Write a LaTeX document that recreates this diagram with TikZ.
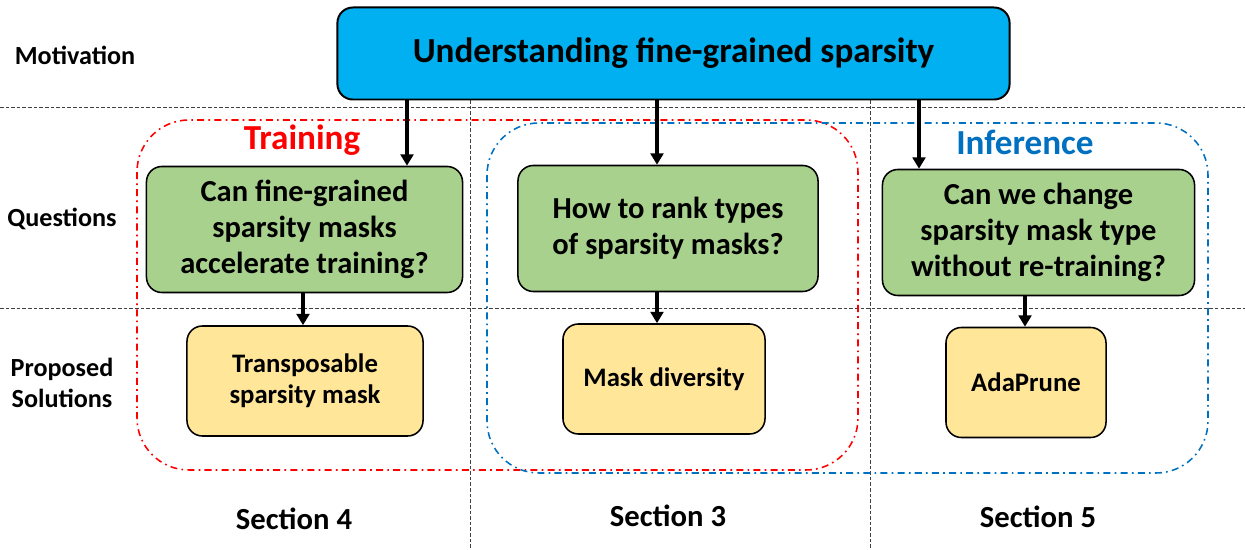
\documentclass[tikz,border=0pt]{standalone}
\usepackage{fontspec}
\setmainfont{Carlito}
\usetikzlibrary{arrows.meta, positioning, calc}
\definecolor{MotBlue}{HTML}{00B0F0}
\definecolor{QGreen}{HTML}{A9D18E}
\definecolor{SolYellow}{HTML}{FFE699}
\definecolor{TrainRed}{HTML}{FF0000}
\definecolor{InfBlue}{HTML}{0070C0}
\definecolor{GridGray}{HTML}{404040}

\tikzset{
  topbox/.style={draw=black, fill=MotBlue, rounded corners=11pt, line width=1.4pt,
    minimum width=16.8cm, minimum height=2.3cm, font=\fontsize{25}{30}\selectfont\bfseries},
  qbox/.style={draw=black, fill=QGreen, rounded corners=11pt, line width=1.1pt,
    align=center, minimum height=3.15cm, font=\fontsize{21.7}{25.5}\selectfont\bfseries},
  solbox/.style={draw=black, fill=SolYellow, rounded corners=11pt, line width=1.1pt,
    align=center, minimum height=2.75cm, font=\fontsize{19}{22}\selectfont\bfseries},
  rowlbl/.style={align=center, font=\fontsize{18.6}{22}\selectfont\bfseries},
  seclbl/.style={font=\fontsize{21.8}{25}\selectfont\bfseries},
  regionlbl/.style={font=\fontsize{25}{29}\selectfont\bfseries},
  arr/.style={line width=2.2pt, -{Triangle[length=8pt, width=9pt]}},
  gridline/.style={GridGray, line width=0.5pt, dash pattern=on 2.5pt off 1.5pt},
  region/.style={line width=1.1pt, rounded corners=1.3cm, dash pattern=on 5pt off 3pt on 1.2pt off 3pt}
}

\begin{document}
\begin{tikzpicture}[x=0.025cm, y=-0.025cm]
  \useasboundingbox (0,0) rectangle (1245,550);

  % row and column separators
  \draw[gridline] (0,107) -- (1245,107);
  \draw[gridline] (0,308) -- (1245,308);
  \draw[gridline] (470,100) -- (470,550);
  \draw[gridline] (870,100) -- (870,550);

  % training / inference regions
  \draw[region, TrainRed] (137,120) rectangle (858,470);
  \draw[region, InfBlue] (487,123) rectangle (1208,473);

  % row labels
  \node[rowlbl] (motlbl) at (75,55) {Motivation};
  \node[rowlbl] (qlbl) at (62,219) {Questions};
  \node[rowlbl] (sollbl) at (62,383) {Proposed\\Solutions};

  % motivation
  \node[topbox] (mot) at (673.5,53.5) {Understanding fine-grained sparsity};

  \node[regionlbl, TrainRed] (train) at (302,140) {Training};
  \node[regionlbl, InfBlue] (infer) at (1025,142) {Inference};

  % questions
  \node[qbox, minimum width=7.9cm] (q4) at (304.5,229.5) {Can fine-grained\\sparsity masks\\accelerate training?};
  \node[qbox, minimum width=7.5cm] (q3) at (668,228.5) {How to rank types\\of sparsity masks?};
  \node[qbox, minimum width=7.8cm] (q5) at (1038.5,232.5) {Can we change\\sparsity mask type\\without re-training?};

  % solutions
  \node[solbox, minimum width=5.9cm] (s4) at (305,381) {Transposable\\sparsity mask};
  \node[solbox, minimum width=5.05cm] (s3) at (664,379) {Mask diversity};
  \node[solbox, minimum width=4cm] (s5) at (1026,382.5) {AdaPrune};

  % sections
  \node[seclbl] (sec4) at (294,519) {Section 4};
  \node[seclbl] (sec3) at (668,516) {Section 3};
  \node[seclbl] (sec5) at (1038,517) {Section 5};

  % arrows
  \draw[arr] (mot.south -| 407,0) -- (q4.north -| 407,0);
  \draw[arr] (mot.south -| 657,0) -- (q3.north -| 657,0);
  \draw[arr] (mot.south -| 919,0) -- (q5.north -| 919,0);
  \draw[arr] (q4.south -| 303,0) -- (s4.north -| 303,0);
  \draw[arr] (q3.south -| 657,0) -- (s3.north -| 657,0);
  \draw[arr] (q5.south -| 1025,0) -- (s5.north -| 1025,0);
\end{tikzpicture}
\end{document}
